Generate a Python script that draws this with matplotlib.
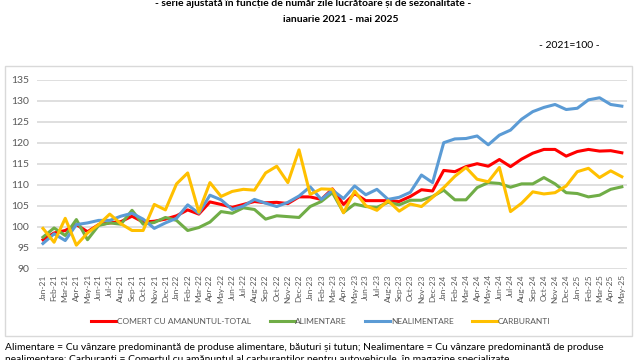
import matplotlib
matplotlib.use("Agg")
import matplotlib.pyplot as plt
from matplotlib.patches import Rectangle

plt.rcParams['font.family'] = ['Lato', 'DejaVu Sans']

months = ['Jan', 'Feb', 'Mar', 'Apr', 'May', 'Jun', 'Jul', 'Aug', 'Sep', 'Oct', 'Nov', 'Dec']
labels = [f"{m}-{y}" for y in ['21', '22', '23', '24', '25'] for m in months][:53]

total = [96.9, 98.5, 99.1, 100.5, 98.8, 100.5, 100.9, 101.2, 102.5, 101.1, 101.3, 101.8,
         102.6, 104.0, 103.0, 105.9, 105.3, 104.6, 105.3, 106.0, 105.7, 105.8, 105.5, 107.1,
         107.1, 106.5, 109.0, 105.3, 107.9, 106.2, 106.2, 106.2, 106.0, 107.2, 108.8, 108.5,
         113.4, 113.1, 114.3, 115.0, 114.4, 116.0, 114.3, 116.1, 117.5, 118.4, 118.4, 116.8,
         117.9, 118.4, 118.0, 118.1, 117.6]
alimentare = [97.5, 99.7, 97.9, 101.7, 96.9, 100.3, 100.9, 100.6, 103.9, 100.6, 101.0, 102.2,
              101.5, 99.1, 99.8, 101.1, 103.6, 103.2, 104.5, 104.1, 101.8, 102.6, 102.4, 102.2,
              104.8, 106.0, 108.1, 103.4, 105.4, 104.8, 104.6, 105.8, 105.2, 106.3, 106.3, 107.2,
              108.7, 106.4, 106.4, 109.3, 110.5, 110.3, 109.4, 110.2, 110.2, 111.7, 110.2, 108.1,
              107.9, 107.1, 107.5, 108.9, 109.5]
nealimentare = [96.0, 98.3, 96.7, 100.5, 100.9, 101.5, 101.5, 102.5, 103.2, 101.8, 99.6, 100.9,
                102.0, 105.2, 103.2, 107.5, 106.4, 104.1, 104.9, 106.5, 105.6, 104.8, 105.8, 107.3,
                109.5, 106.5, 108.7, 106.7, 109.7, 107.6, 108.9, 106.5, 107.0, 108.2, 112.3, 110.5,
                120.0, 120.9, 121.0, 121.6, 119.5, 121.8, 123.0, 125.6, 127.4, 128.4, 129.1, 127.9,
                128.2, 130.2, 130.7, 129.1, 128.7]
carburanti = [99.6, 96.3, 102.0, 95.6, 98.5, 100.5, 103.0, 100.7, 99.1, 99.1, 105.3, 104.0,
              110.2, 112.8, 103.5, 110.5, 107.2, 108.4, 108.9, 108.7, 112.8, 114.4, 110.5, 118.3,
              107.7, 109.0, 108.9, 103.3, 108.5, 105.0, 103.9, 106.2, 103.7, 105.4, 104.8, 107.0,
              109.3, 112.0, 114.1, 111.3, 110.7, 114.1, 103.6, 105.6, 108.3, 107.8, 108.1, 109.7,
              113.1, 113.9, 111.7, 113.3, 111.9]

series = [
    ("COMERT CU AMANUNTUL-TOTAL", total, "#FF0000"),
    ("ALIMENTARE", alimentare, "#70AD47"),
    ("NEALIMENTARE", nealimentare, "#5B9BD5"),
    ("CARBURANTI", carburanti, "#FFC000"),
]

fig = plt.figure(figsize=(6.4, 3.6), dpi=100)

# chart border
fig.patches.append(Rectangle((5/640, 1-336/360), 627/640, 270/360, transform=fig.transFigure,
                             fill=False, edgecolor="#D9D9D9", linewidth=1.0))

ax = fig.add_axes([37.4/640, 1-268.7/360, 590/640, 189/360])
x = list(range(len(labels)))
handles = []
for name, vals, col in series:
    h, = ax.plot(x, vals, color=col, linewidth=2.2, label=name, solid_joinstyle='round')
    handles.append(h)

ax.set_xlim(-0.5, len(labels) - 0.5)
ax.set_ylim(90, 135)
ax.set_yticks(range(90, 136, 5))
ax.yaxis.grid(True, color="#D9D9D9", linewidth=1.2)
ax.set_axisbelow(True)
for s in ax.spines.values():
    s.set_visible(False)
ax.set_xticks(x)
ax.set_xticklabels(labels, rotation=90, fontsize=6, color="#595959")
ax.tick_params(axis='both', length=0)
ax.tick_params(axis='y', labelsize=7.5, labelcolor="#595959", pad=6)
ax.tick_params(axis='x', pad=4)

fig.legend(handles=handles, loc='center', bbox_to_anchor=(321/640, 1-321/360), ncol=4,
           frameon=False, fontsize=6.0, handlelength=3.0, handletextpad=0.1, columnspacing=2.2,
           borderpad=0.0, labelcolor="#595959")

fig.text(313/640, 1-3/360, "- serie ajustată în funcție de număr zile lucrătoare și de sezonalitate -",
         ha='center', va='center', fontsize=7.5, fontweight='bold')
fig.text(341/640, 1-19/360, "ianuarie 2021 - mai 2025", ha='center', va='center',
         fontsize=7.5, fontweight='bold')
fig.text(600/640, 1-45/360, "- 2021=100 -", ha='right', va='center', fontsize=7.5)
fig.text(5/640, 1-347/360,
         "Alimentare = Cu vânzare predominantă de produse alimentare, băuturi și tutun; Nealimentare = Cu vânzare predominantă de produse",
         ha='left', va='center', fontsize=7.4)
fig.text(5/640, 1-359/360,
         "nealimentare; Carburanti = Comertul cu amănuntul al carburantilor pentru autovehicule, în magazine specializate",
         ha='left', va='center', fontsize=7.4)

fig.savefig("out.png", dpi=100)
